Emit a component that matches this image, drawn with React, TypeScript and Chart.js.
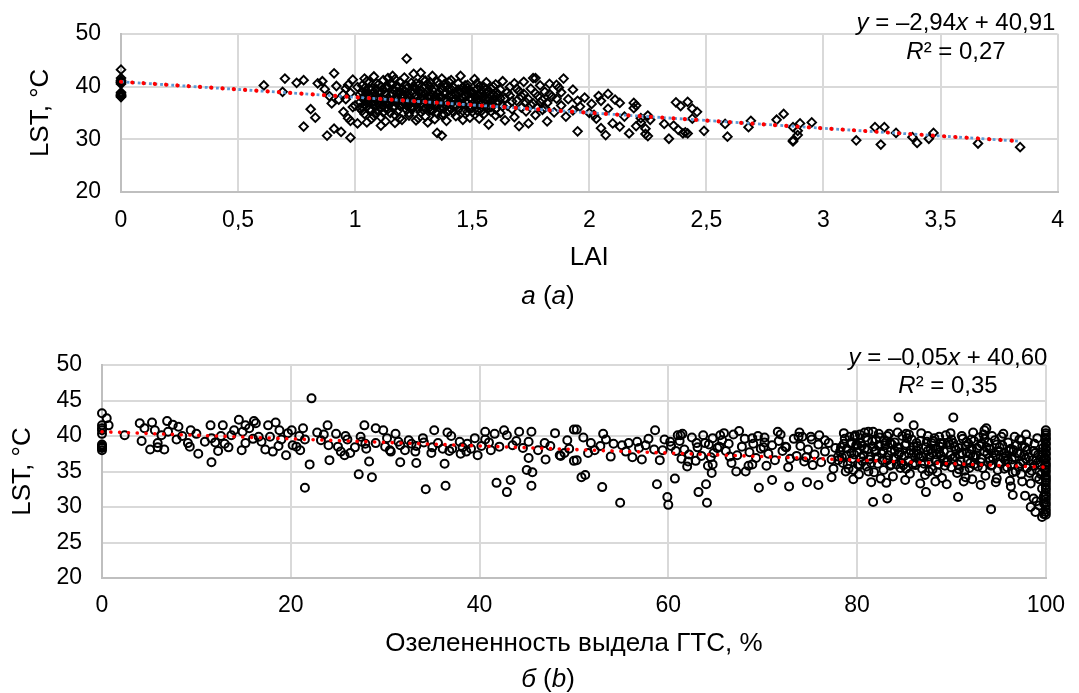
import React, { useEffect, useRef } from "react";
import { Chart, registerables } from "chart.js";

Chart.register(...registerables);

const FONT = "'Liberation Sans', Arial, Helvetica, sans-serif";
const TEXT = "#000000";
const GRID = "#d9d9d9";
const AXIS = "#bfbfbf";

// ---------------- panel a: LAI vs LST ----------------
const laiTicks = [0, 0.5, 1, 1.5, 2, 2.5, 3, 3.5, 4];
const lstTicksA = [20, 30, 40, 50];
const slopeA = -2.94;
const interceptA = 40.91;
const r2A = 0.27;
const trendRangeA = [0, 3.83];

const laiZero: [number, number][] = [
  [0, 43.2], [0, 41.6], [0, 41.2], [0, 41.0], [0, 40.8], [0, 40.7], [0, 40.5],
  [0, 38.9], [0, 38.6], [0, 38.4], [0, 38.3], [0, 38.1], [0, 38.0],
];

const laiLeft: [number, number][] = [
  [0.61, 40.2], [0.70, 41.5], [0.69, 39.0], [0.75, 40.7], [0.78, 41.2], [0.78, 32.4],
  [0.81, 35.7], [0.83, 34.1], [0.84, 40.6], [0.86, 41.0], [0.87, 39.5], [0.88, 30.7],
  [0.89, 38.2], [0.90, 36.8], [0.91, 42.5], [0.91, 32.0], [0.92, 40.1], [0.93, 37.5],
  [0.94, 31.4], [0.95, 35.2], [0.96, 39.6], [0.97, 34.0], [0.98, 30.3], [0.98, 33.5],
  [0.99, 41.3], [1.00, 36.4], [1.01, 33.0], [1.22, 45.3], [1.37, 30.7], [1.35, 31.2],
];

const laiBand1: [number, number][] = [
  [1.02, 38.5], [1.03, 40.2], [1.03, 36.1], [1.04, 41.5], [1.04, 34.8], [1.05, 39.1], [1.05, 37.3],
  [1.06, 35.6], [1.06, 40.8], [1.07, 33.9], [1.07, 38.0], [1.08, 36.7], [1.08, 41.9], [1.09, 39.5],
  [1.09, 35.0], [1.10, 37.8], [1.10, 40.4], [1.11, 34.2], [1.11, 38.9], [1.12, 36.3], [1.12, 41.2],
  [1.13, 39.8], [1.13, 33.4], [1.14, 37.1], [1.14, 35.7], [1.15, 40.6], [1.15, 38.3], [1.16, 36.0],
  [1.16, 42.0], [1.17, 34.6], [1.17, 39.2], [1.18, 37.5], [1.18, 35.3], [1.19, 40.9], [1.19, 38.7],
  [1.20, 36.6], [1.20, 33.7], [1.02, 37.0], [1.04, 39.7], [1.06, 38.4], [1.08, 34.4], [1.10, 39.0],
  [1.12, 37.6], [1.14, 41.6], [1.16, 38.6], [1.18, 40.1], [1.20, 39.4], [1.01, 39.9], [1.03, 35.4],
  [1.05, 41.0], [1.07, 36.9], [1.09, 37.4], [1.11, 40.0], [1.13, 35.9], [1.15, 36.8], [1.17, 41.4],
  [1.19, 34.0], [1.05, 33.2], [1.11, 32.6], [1.17, 33.1],
];

const laiBand2: [number, number][] = [
  [1.21, 38.2], [1.21, 41.7], [1.22, 36.4], [1.22, 39.6], [1.23, 34.5], [1.23, 37.9], [1.24, 40.7],
  [1.24, 35.8], [1.25, 42.4], [1.25, 38.8], [1.26, 36.9], [1.26, 33.6], [1.27, 40.2], [1.27, 37.3],
  [1.28, 35.1], [1.28, 39.3], [1.29, 41.3], [1.29, 36.2], [1.30, 38.5], [1.30, 34.3], [1.31, 40.5],
  [1.31, 37.0], [1.32, 35.5], [1.32, 39.9], [1.33, 42.0], [1.33, 36.7], [1.34, 38.1], [1.34, 33.8],
  [1.35, 40.9], [1.35, 37.6], [1.36, 35.9], [1.36, 39.1], [1.37, 41.5], [1.37, 36.1], [1.38, 38.6],
  [1.38, 34.7], [1.39, 40.0], [1.39, 37.2], [1.40, 35.4], [1.40, 39.5], [1.22, 37.7], [1.24, 39.0],
  [1.26, 40.6], [1.28, 37.8], [1.30, 41.1], [1.32, 38.3], [1.34, 36.4], [1.36, 38.0], [1.38, 40.4],
  [1.40, 36.8], [1.23, 35.0], [1.27, 34.0], [1.31, 33.2], [1.35, 34.9], [1.39, 33.5], [1.25, 36.0],
  [1.29, 38.9], [1.33, 37.4], [1.37, 39.7], [1.28, 42.6],
];

const laiBand3: [number, number][] = [
  [1.41, 38.4], [1.41, 41.2], [1.42, 36.3], [1.42, 39.8], [1.43, 34.4], [1.43, 37.5], [1.44, 40.6],
  [1.44, 35.6], [1.45, 38.9], [1.45, 42.0], [1.46, 36.6], [1.46, 33.7], [1.47, 39.4], [1.47, 37.1],
  [1.48, 35.2], [1.48, 40.3], [1.49, 37.9], [1.49, 34.1], [1.50, 39.0], [1.50, 36.0], [1.51, 41.4],
  [1.51, 38.2], [1.52, 35.5], [1.52, 37.4], [1.53, 40.0], [1.53, 33.9], [1.54, 36.8], [1.54, 39.2],
  [1.55, 34.8], [1.55, 38.0], [1.56, 40.8], [1.56, 36.2], [1.57, 37.7], [1.57, 32.8], [1.58, 39.6],
  [1.58, 35.3], [1.59, 38.5], [1.59, 36.5], [1.60, 40.4], [1.60, 34.5], [1.42, 38.0], [1.44, 37.0],
  [1.46, 39.9], [1.48, 38.7], [1.50, 37.6], [1.52, 39.5], [1.54, 37.9], [1.56, 38.8], [1.58, 37.2],
  [1.60, 38.1],
];

const laiBand4: [number, number][] = [
  [1.61, 37.0], [1.62, 39.4], [1.62, 35.0], [1.63, 41.0], [1.64, 37.8], [1.64, 33.6], [1.65, 36.4],
  [1.66, 39.9], [1.66, 38.3], [1.67, 35.7], [1.68, 40.6], [1.68, 34.2], [1.69, 37.3], [1.70, 39.1],
  [1.70, 32.5], [1.71, 36.0], [1.72, 38.6], [1.72, 40.9], [1.73, 35.3], [1.74, 37.6], [1.74, 33.0],
  [1.75, 39.6], [1.76, 36.8], [1.76, 41.6], [1.77, 34.6], [1.78, 38.2], [1.78, 36.1], [1.79, 40.2],
  [1.80, 35.6], [1.80, 37.4], [1.81, 39.0], [1.82, 33.4], [1.82, 36.9], [1.83, 40.5], [1.84, 38.1],
  [1.85, 35.1], [1.86, 37.7], [1.87, 39.8], [1.88, 36.4], [1.90, 34.3],
];

const laiCore: [number, number][] = [
  [1.03, 37.8], [1.05, 36.2], [1.07, 39.4], [1.09, 38.2], [1.11, 36.0], [1.13, 38.6], [1.15, 37.4],
  [1.17, 36.2], [1.19, 39.0], [1.21, 36.8], [1.23, 38.5], [1.25, 37.2], [1.27, 39.1], [1.29, 35.6],
  [1.31, 38.0], [1.33, 39.3], [1.35, 36.5], [1.37, 37.9], [1.39, 38.8], [1.41, 35.8], [1.43, 38.6],
  [1.45, 36.9], [1.47, 38.2], [1.49, 35.9], [1.51, 37.0], [1.53, 38.4], [1.55, 36.3], [1.57, 39.0],
  [1.59, 37.5], [1.04, 36.6], [1.06, 37.0], [1.08, 38.9], [1.10, 35.5], [1.12, 39.4], [1.14, 36.6],
  [1.16, 37.2], [1.18, 38.9], [1.20, 37.9], [1.22, 35.6], [1.24, 37.0], [1.26, 38.3], [1.28, 36.5],
  [1.30, 37.3], [1.32, 36.1], [1.34, 39.6], [1.36, 37.1], [1.38, 35.9], [1.40, 38.2], [1.42, 37.2],
  [1.44, 38.8], [1.46, 35.4], [1.48, 36.8], [1.50, 38.6], [1.52, 36.6], [1.54, 35.4], [1.56, 37.6],
  [1.58, 36.1], [1.60, 36.9], [1.62, 37.8], [1.65, 38.9],
];

const laiCore2: [number, number][] = [
  [1.02, 35.9], [1.04, 38.1], [1.06, 39.6], [1.08, 37.2], [1.10, 36.6], [1.12, 35.1], [1.14, 39.9],
  [1.16, 40.4], [1.18, 36.9], [1.20, 38.4], [1.22, 40.2], [1.24, 36.2], [1.26, 39.6], [1.28, 38.6],
  [1.30, 35.9], [1.32, 40.8], [1.34, 37.7], [1.36, 40.5], [1.38, 37.4], [1.40, 40.9], [1.42, 35.2],
  [1.44, 39.4], [1.46, 37.8], [1.48, 39.7], [1.50, 35.2], [1.52, 40.6], [1.54, 38.6], [1.56, 39.5],
  [1.58, 38.3], [1.60, 35.7], [1.03, 38.9], [1.05, 38.0], [1.07, 35.5], [1.09, 40.6], [1.11, 37.2],
  [1.13, 37.0], [1.15, 35.0], [1.17, 37.8], [1.19, 36.4], [1.21, 39.2], [1.23, 36.5], [1.25, 40.0],
  [1.27, 35.8], [1.29, 37.6], [1.31, 39.1], [1.33, 35.4], [1.35, 38.6], [1.37, 34.6], [1.39, 36.4],
  [1.41, 39.5], [1.43, 36.3], [1.45, 37.6], [1.47, 40.2], [1.49, 38.8], [1.51, 36.4], [1.53, 37.1],
  [1.55, 39.9], [1.57, 35.9], [1.59, 40.0], [1.61, 38.6], [1.63, 36.3], [1.67, 37.2], [1.69, 39.6],
  [1.71, 38.2], [1.73, 37.0], [1.75, 36.5], [1.77, 38.7], [1.79, 37.0], [1.81, 36.0], [1.83, 38.6],
  [0.96, 37.6], [0.98, 38.8], [0.99, 36.1], [0.97, 40.3], [0.95, 38.5],
];

const laiTail: [number, number][] = [
  [1.89, 41.5], [1.77, 41.6], [1.93, 39.4], [1.95, 37.3], [1.95, 31.5], [2.08, 38.6], [2.05, 37.3],
  [2.13, 36.9], [2.19, 36.9], [2.20, 36.4], [2.19, 35.9], [2.08, 35.8], [2.03, 33.9], [2.05, 32.1],
  [2.07, 30.8], [2.13, 32.4], [2.17, 31.1], [2.20, 32.5], [2.22, 33.2], [2.24, 32.0], [2.24, 31.0],
  [2.25, 30.6], [2.25, 34.5], [2.26, 33.7], [2.22, 34.0], [2.32, 32.9], [2.34, 30.1], [2.36, 32.6],
  [2.38, 31.8], [2.40, 31.1], [2.42, 31.1], [2.41, 31.3], [2.37, 37.0], [2.39, 36.3], [2.42, 37.1],
  [2.44, 35.8], [2.46, 35.2], [2.44, 33.9], [2.49, 31.6], [2.58, 32.9], [2.59, 30.5], [2.69, 33.5],
  [2.68, 32.3], [2.80, 33.7], [2.83, 34.8], [2.87, 32.3], [2.87, 29.6], [2.87, 29.8], [2.89, 30.8],
  [2.89, 31.6], [2.90, 33.0], [2.95, 33.2], [3.14, 29.8], [3.22, 32.3], [3.26, 32.3], [3.245, 29.0],
  [3.31, 31.2], [3.38, 30.4], [3.40, 29.3], [3.45, 30.1], [3.47, 31.2], [3.66, 29.2], [3.84, 28.5],
  [1.86, 40.3], [1.88, 38.9], [1.91, 37.6], [1.93, 35.5], [1.96, 36.2], [1.98, 37.9], [2.00, 35.0],
  [2.01, 36.7], [2.02, 34.6], [2.04, 38.2], [2.10, 33.0], [2.11, 37.5], [2.15, 34.3],
];

// ---------------- panel b: greenness vs LST ----------------
const greenTicks = [0, 20, 40, 60, 80, 100];
const lstTicksB = [20, 25, 30, 35, 40, 45, 50];
const slopeB = -0.05;
const interceptB = 40.6;
const r2B = 0.35;
const trendRangeB = [0, 100];

const greenLow: [number, number][] = [
  [0, 43.2], [0.5, 42.5], [0.7, 41.5], [0, 41.5], [0, 40.8], [0, 40.3], [0, 41.1], [0, 38.8], [0, 38.6],
  [0, 38.3], [0, 38.0], [0, 38.4], [2.4, 40.1], [4.0, 41.8], [4.2, 39.3], [4.5, 41.1], [5.1, 38.1],
  [5.3, 41.9], [5.6, 40.8], [5.9, 39.0], [5.9, 38.4], [6.3, 40.1], [6.6, 38.1], [6.9, 42.1], [7.0, 40.6],
  [7.5, 41.6], [7.9, 39.5], [8.1, 41.3], [9.1, 39.0], [9.3, 38.5], [9.4, 40.8], [10.0, 40.3], [10.2, 37.5],
  [10.9, 39.2], [11.5, 41.5], [11.6, 39.7], [11.6, 36.3], [12.3, 37.9], [12.6, 40.0], [12.8, 41.5],
  [13.4, 38.4], [13.7, 40.1], [14.0, 40.8], [14.5, 42.3], [14.8, 38.0], [14.9, 40.6], [15.2, 39.0],
  [15.2, 41.5], [15.6, 41.1], [16.1, 42.1], [16.3, 41.8], [16.6, 39.9], [16.9, 39.2], [17.3, 38.1],
  [17.6, 41.5], [17.8, 39.9], [18.1, 37.8], [18.4, 41.9], [18.7, 38.6], [18.8, 40.8], [19.5, 37.3],
  [19.7, 40.4], [20.1, 40.8], [20.2, 38.7], [20.6, 38.5], [20.9, 40.0], [21.3, 41.1], [21.5, 39.5],
  [21.5, 32.7], [22.0, 36.0], [22.2, 45.3], [22.8, 40.5], [23.2, 39.4], [23.9, 41.5], [24.0, 38.7],
  [24.1, 36.6], [24.8, 40.3], [25.0, 38.5], [25.3, 37.8], [25.7, 37.3], [25.8, 40.0], [26.3, 37.6],
  [27.2, 34.6], [27.4, 39.9], [27.5, 39.2], [27.8, 41.5], [27.9, 38.9], [28.3, 36.4], [28.6, 34.2],
  [29.0, 41.1], [29.0, 39.0], [29.8, 40.8], [30.2, 39.7], [30.5, 38.0], [30.6, 37.8], [31.1, 40.3],
  [31.4, 39.2], [31.6, 38.7], [31.6, 36.3], [32.1, 38.0], [32.5, 39.4], [33.2, 37.8], [33.3, 38.6],
  [33.3, 36.2], [34.0, 39.7], [34.1, 39.1], [34.3, 32.5], [34.9, 37.6], [35.2, 40.8], [35.6, 39.0],
  [36.1, 38.2], [36.3, 36.1], [36.4, 33.0], [36.6, 40.5], [37.0, 40.0], [37.1, 38.2], [37.9, 39.2],
  [38.0, 37.5], [38.6, 37.8], [38.7, 38.9], [39.1, 38.2], [39.5, 39.7], [39.8, 37.3], [40.6, 40.6],
  [40.6, 39.5], [41.2, 38.0], [41.6, 40.3], [41.8, 33.4], [42.1, 38.5], [42.6, 40.8], [42.9, 40.1],
  [42.9, 32.1], [43.3, 33.8], [43.5, 38.7], [44.2, 40.6], [45.0, 35.2], [45.2, 39.2], [45.2, 36.9],
  [45.5, 40.6], [45.5, 33.0], [45.6, 34.9], [46.2, 38.0], [46.9, 39.0], [47.0, 36.7], [48.0, 40.4],
  [48.5, 37.3], [48.6, 37.2], [49.3, 39.4], [49.5, 38.2], [50.0, 40.9], [50.0, 36.5],
  [8.5, 40.0], [12.0, 39.1], [13.0, 38.9], [16.0, 39.6], [19.0, 39.5], [21.0, 38.0], [23.5, 40.2],
  [26.0, 39.5], [26.8, 38.4], [28.0, 38.2], [30.0, 38.5], [32.8, 38.9], [35.0, 38.4], [36.8, 37.9],
  [38.2, 38.4], [40.2, 38.6], [41.0, 39.1], [43.9, 39.3], [44.6, 38.3], [47.5, 38.6], [49.0, 37.6],
];

const greenMid: [number, number][] = [
  [50.3, 40.9], [50.3, 36.6], [50.8, 34.2], [51.2, 34.5], [51.0, 39.8], [51.8, 39.0], [52.2, 38.0],
  [53.0, 32.8], [53.4, 39.5], [53.9, 37.1], [54.9, 30.6], [55.1, 38.7], [55.8, 39.0], [56.2, 37.0],
  [56.7, 39.2], [57.2, 36.7], [57.6, 38.7], [58.5, 38.1], [58.6, 40.8], [58.8, 33.2], [59.1, 36.6],
  [59.6, 39.5], [59.9, 31.4], [60.0, 30.3], [60.2, 39.2], [61.0, 40.1], [60.7, 34.0], [61.3, 40.1],
  [61.4, 36.8], [62.0, 35.7], [62.1, 36.4], [63.0, 39.0], [63.2, 32.1], [64.0, 33.2], [64.1, 30.6],
  [64.2, 35.8], [64.7, 36.0], [64.6, 34.8], [64.7, 39.7], [65.5, 40.1], [65.4, 38.5], [66.5, 37.1],
  [67.2, 35.0], [68.2, 35.0], [68.5, 35.8], [68.9, 39.7], [70.2, 39.8], [70.1, 38.4], [69.6, 32.7],
  [71.0, 33.8], [71.6, 40.6], [72.4, 38.5], [72.8, 32.9], [73.8, 39.9], [74.2, 39.9], [74.7, 33.5],
  [75.2, 39.5], [75.9, 33.1], [76.6, 39.4], [77.3, 34.2], [78.0, 36.6],
  [52.8, 38.6], [54.2, 38.9], [55.5, 37.8], [56.9, 38.3], [57.9, 39.6], [59.4, 38.0], [53.1, 40.3],
  [51.5, 37.6],
  [60.3, 38.6], [60.8, 37.9], [61.2, 39.3], [61.7, 38.1], [62.2, 37.4], [62.5, 39.8], [63.1, 38.4],
  [63.5, 37.2], [63.9, 39.0], [64.3, 38.8], [64.8, 37.6], [65.2, 38.3], [65.7, 39.4], [66.1, 37.9],
  [66.4, 38.9], [66.9, 40.2], [67.3, 37.3], [67.8, 38.5], [68.1, 39.6], [68.6, 37.7], [69.0, 38.9],
  [69.3, 36.9], [69.8, 38.2], [70.2, 39.1], [70.6, 37.5], [71.0, 38.7], [71.3, 36.6], [71.7, 39.3],
  [72.1, 37.9], [72.5, 38.4], [72.9, 36.8], [73.3, 39.6], [73.6, 37.2], [74.0, 38.6], [74.4, 36.4],
  [74.8, 38.1], [75.1, 39.9], [75.5, 37.4], [75.9, 38.8], [76.2, 36.3], [76.6, 37.8], [77.0, 39.0],
  [77.3, 36.7], [77.7, 38.3], [78.0, 37.1], [61.5, 40.3], [63.7, 40.1], [65.9, 40.4], [67.5, 40.7],
  [69.5, 40.0], [71.9, 40.2], [73.9, 40.5], [76.0, 40.1], [62.9, 36.5], [66.7, 36.2], [70.4, 35.8],
  [72.7, 35.6], [75.3, 35.9], [77.5, 35.4], [68.9, 36.0], [64.5, 37.0], [74.6, 37.0],
];

const greenHigh: [number, number][] = [
  [78.3, 38.4], [78.5, 36.2], [78.7, 39.6], [78.9, 37.3], [79.1, 35.4], [79.3, 38.9], [79.5, 36.8],
  [79.8, 40.1], [80.0, 37.7], [80.2, 34.6], [80.4, 39.0], [80.6, 36.4], [80.8, 38.2], [81.0, 35.7],
  [81.2, 40.6], [81.4, 37.1], [81.6, 39.3], [81.8, 34.9], [82.0, 38.0], [82.2, 36.1], [82.4, 39.8],
  [82.6, 37.5], [82.8, 35.2], [83.0, 38.7], [83.2, 36.6], [83.4, 40.3], [83.6, 37.9], [83.8, 34.3],
  [84.0, 39.1], [84.2, 36.0], [84.4, 38.4], [84.6, 35.5], [84.8, 40.0], [85.0, 37.2], [85.2, 38.9],
  [85.4, 36.5], [85.6, 34.7], [85.8, 39.5], [86.0, 37.6], [86.2, 35.9], [86.4, 38.6], [86.6, 36.9],
  [86.8, 40.4], [87.0, 37.0], [87.2, 34.5], [87.4, 39.2], [87.6, 36.3], [87.8, 38.1], [88.0, 35.3],
  [88.2, 39.7], [88.4, 37.4], [88.6, 36.0], [88.8, 38.5], [89.0, 34.1], [89.2, 37.8], [89.4, 40.1],
  [89.6, 36.6], [89.8, 38.8], [90.0, 35.6], [90.2, 39.0], [90.4, 37.1], [90.6, 34.8], [90.8, 38.3],
  [91.0, 36.4], [91.2, 39.6], [91.4, 35.1], [91.6, 37.7], [91.8, 38.9], [92.0, 36.2], [92.2, 33.9],
  [92.4, 39.3], [92.6, 37.3], [92.8, 35.7], [93.0, 38.6], [93.2, 36.8], [93.4, 40.2], [93.6, 34.4],
  [93.8, 37.5], [94.0, 38.2], [94.2, 35.8], [94.4, 36.9], [94.6, 39.4], [94.8, 34.0], [95.0, 37.9],
  [95.2, 36.1], [95.4, 38.7], [95.6, 35.4], [95.8, 37.2], [96.0, 39.1], [96.2, 33.7], [96.4, 36.7],
  [96.6, 38.0], [96.8, 35.0], [97.0, 37.6], [97.2, 39.5], [97.4, 34.6], [97.6, 36.3], [97.8, 38.4],
  [98.0, 35.5], [98.2, 37.0], [98.4, 33.3], [98.6, 36.6], [98.8, 38.9], [99.0, 34.2], [99.2, 37.4],
  [99.4, 35.9], [99.6, 32.6], [99.8, 36.8],
  [78.4, 37.0], [78.8, 35.0], [79.2, 39.9], [79.7, 37.4], [80.1, 36.0], [80.5, 38.6], [80.9, 39.8],
  [81.3, 36.7], [81.7, 38.5], [82.1, 37.0], [82.5, 34.0], [82.9, 39.4], [83.3, 37.3], [83.7, 38.8],
  [84.1, 36.8], [84.5, 37.7], [84.9, 35.9], [85.3, 39.7], [85.7, 38.0], [86.1, 36.2], [86.5, 37.4],
  [86.9, 35.4], [87.3, 38.4], [87.7, 37.1], [88.1, 39.3], [88.5, 34.9], [88.9, 37.2], [89.3, 35.8],
  [89.7, 39.1], [90.1, 36.8], [90.5, 38.0], [90.9, 37.4], [91.3, 33.6], [91.7, 36.5], [92.1, 38.1],
  [92.5, 37.0], [92.9, 39.8], [93.3, 35.5], [93.7, 38.4], [94.1, 36.5], [94.5, 37.6], [94.9, 35.2],
  [95.3, 39.9], [95.7, 36.6], [96.1, 37.9], [96.5, 34.9], [96.9, 38.7], [97.3, 36.1], [97.7, 37.3],
  [98.1, 39.2], [98.5, 35.1], [98.9, 37.6], [99.3, 33.9], [99.7, 38.3],
  [78.6, 40.4], [79.4, 39.0], [80.3, 40.2], [81.1, 38.1], [82.3, 40.3], [83.5, 39.0], [84.3, 40.5],
  [85.5, 40.2], [86.3, 39.0], [87.5, 40.0], [88.7, 39.9], [89.9, 40.4], [91.1, 40.0], [92.3, 40.5],
  [93.5, 39.6], [94.3, 40.0], [95.5, 40.3], [96.7, 39.9], [97.9, 40.2], [99.1, 39.7], [79.6, 33.9],
  [81.5, 33.5], [83.1, 33.4], [85.1, 33.8], [86.7, 33.3], [88.3, 33.6], [89.5, 33.2], [91.5, 34.2],
  [93.1, 33.1], [94.7, 33.5], [96.3, 32.9], [97.5, 33.6], [99.5, 34.6], [98.7, 31.2], [99.3, 30.2],
  [99.0, 30.8], [97.8, 31.6],
  [79.7, 39.9], [80.8, 40.5], [81.7, 40.6], [81.7, 30.7], [83.2, 31.2], [83.2, 40.0], [84.4, 42.6],
  [85.2, 40.3], [86.0, 41.5], [87.3, 32.1], [88.8, 39.0], [90.2, 42.6], [90.7, 31.4], [92.1, 39.5],
  [93.5, 40.8], [93.7, 41.1], [94.2, 29.7], [96.5, 31.7], [97.4, 39.4], [98.4, 30.0], [98.9, 29.3],
  [99.6, 28.6],
];

const greenDense: [number, number][] = [
  [78.2, 37.8], [78.6, 38.9], [79.0, 36.0], [79.4, 37.6], [79.9, 38.7], [80.3, 35.9], [80.7, 37.3],
  [81.1, 39.4], [81.5, 36.2], [81.9, 37.8], [82.3, 38.6], [82.7, 36.6], [83.1, 39.2], [83.5, 35.8],
  [83.9, 37.0], [84.3, 38.3], [84.7, 36.2], [85.1, 38.7], [85.5, 37.5], [85.9, 36.0], [86.3, 38.0],
  [86.7, 39.3], [87.1, 36.1], [87.5, 37.9], [87.9, 39.0], [88.3, 36.6], [88.7, 37.7], [89.1, 38.9],
  [89.5, 36.3], [89.9, 37.3], [90.3, 38.5], [90.7, 36.0], [91.1, 37.6], [91.5, 38.6], [91.9, 35.5],
  [92.3, 37.1], [92.7, 38.3], [93.1, 36.3], [93.5, 37.8], [93.9, 39.1], [94.3, 35.9], [94.7, 37.3],
  [95.1, 38.4], [95.5, 36.9], [95.9, 35.6], [96.3, 38.2], [96.7, 37.0], [97.1, 35.7], [97.5, 38.6],
  [97.9, 36.8], [98.3, 34.8], [98.7, 37.9], [99.1, 36.2], [99.5, 37.0], [99.9, 35.3],
  [78.9, 38.2], [79.6, 35.2], [80.4, 37.0], [81.2, 35.0], [82.0, 39.5], [82.8, 37.9], [83.6, 36.0],
  [84.4, 37.4], [85.2, 35.4], [86.0, 38.5], [86.8, 37.2], [87.6, 35.0], [88.4, 38.2], [89.2, 36.6],
  [90.0, 39.5], [90.8, 35.3], [91.6, 39.2], [92.4, 36.0], [93.2, 38.9], [94.0, 36.9], [94.8, 38.8],
  [95.6, 37.6], [96.4, 36.0], [97.2, 37.5], [98.0, 38.0], [98.8, 35.8], [99.6, 37.7], [80.0, 38.8],
  [84.0, 37.9], [88.0, 37.6], [92.0, 37.4], [96.0, 36.6], [99.0, 36.6],
];

const greenFull: [number, number][] = [
  [100, 40.8], [100, 40.4], [100, 40.1], [100, 39.7], [100, 39.5], [100, 39.0], [100, 38.8], [100, 38.3],
  [100, 38.1], [100, 37.6], [100, 37.4], [100, 36.9], [100, 36.7], [100, 36.2], [100, 35.9], [100, 35.6],
  [100, 35.2], [100, 34.9], [100, 34.4], [100, 34.1], [100, 33.8], [100, 33.5], [100, 33.1], [100, 32.7],
  [100, 32.4], [100, 31.9], [100, 31.5], [100, 31.1], [100, 30.6], [100, 30.2], [100, 29.7], [100, 29.3],
  [100, 28.9], [99.8, 31.5], [99.8, 30.5], [99.8, 29.0],
];

// ---------------- helpers ----------------
const toPts = (arr: [number, number][]) => arr.map(([x, y]) => ({ x, y }));
const trend = (slope: number, intercept: number, range: number[]) =>
  range.map((x) => ({ x, y: intercept + slope * x }));
const fmtNum = (v: number, d: number) => Math.abs(v).toFixed(d).replace(".", ",");
const fmtTick = (v: number | string) => String(v).replace(".", ",");

type Run = { t: string; i?: boolean };

function drawRuns(ctx: CanvasRenderingContext2D, runs: Run[], cx: number, cy: number, size: number) {
  const widths = runs.map((r) => {
    ctx.font = `${r.i ? "italic " : ""}${size}px ${FONT}`;
    return ctx.measureText(r.t).width;
  });
  const total = widths.reduce((a, b) => a + b, 0);
  let x = cx - total / 2;
  ctx.textBaseline = "middle";
  ctx.textAlign = "left";
  ctx.fillStyle = TEXT;
  runs.forEach((r, k) => {
    ctx.font = `${r.i ? "italic " : ""}${size}px ${FONT}`;
    ctx.fillText(r.t, x, cy);
    x += widths[k];
  });
}

function textPlugin(
  id: string,
  slope: number,
  intercept: number,
  r2: number,
  eqX: number,
  eqY: number,
  r2Y: number,
  capLetter: string,
  capLatin: string,
  capY: number
) {
  return {
    id,
    afterDraw(chart: any) {
      const ctx = chart.ctx as CanvasRenderingContext2D;
      ctx.save();
      drawRuns(
        ctx,
        [
          { t: "y", i: true },
          { t: ` = ${slope < 0 ? "–" : ""}${fmtNum(slope, 2)}` },
          { t: "x", i: true },
          { t: ` + ${fmtNum(intercept, 2)}` },
        ],
        eqX,
        eqY,
        24
      );
      drawRuns(ctx, [{ t: "R", i: true }, { t: `² = ${fmtNum(r2, 2)}` }], eqX, r2Y, 24);
      drawRuns(
        ctx,
        [{ t: capLetter, i: true }, { t: " (" }, { t: capLatin, i: true }, { t: ")" }],
        548,
        capY,
        26
      );
      ctx.restore();
    },
  };
}

function makeConfig(opts: {
  points: { x: number; y: number }[];
  trendPts: { x: number; y: number }[];
  blueTrend: boolean;
  pointStyle: string;
  pointRadius: number;
  pointBorder: number;
  xMin: number;
  xMax: number;
  yMin: number;
  yMax: number;
  xTicks: number[];
  yTicks: number[];
  xTitle: string;
  yWidth: number;
  xHeight: number;
  padTop: number;
  padRight: number;
  xTickPad: number;
  xTitlePadBottom: number;
  yTitlePadTop: number;
  dotGap: number;
  dotWidth: number;
  plugin: any;
}): any {
  const datasets: any[] = [
    {
      data: opts.trendPts,
      showLine: true,
      borderColor: "#ff0000",
      borderWidth: opts.dotWidth,
      borderDash: [0.1, opts.dotGap],
      borderCapStyle: "round",
      pointRadius: 0,
      fill: false,
      clip: false,
      order: 0,
    },
  ];
  if (opts.blueTrend) {
    datasets.push({
      data: opts.trendPts,
      showLine: true,
      borderColor: "#5b9bd5",
      borderWidth: 2.8,
      borderDash: [2.8, 2.8],
      borderCapStyle: "butt",
      pointRadius: 0,
      fill: false,
      clip: false,
      order: 1,
    });
  }
  datasets.push({
    data: opts.points,
    showLine: false,
    pointStyle: opts.pointStyle,
    pointRadius: opts.pointRadius,
    pointBorderWidth: opts.pointBorder,
    pointBorderColor: "#000000",
    pointBackgroundColor: "rgba(0,0,0,0)",
    borderColor: "#000000",
    backgroundColor: "rgba(0,0,0,0)",
    clip: false,
    order: 2,
  });

  return {
    type: "scatter",
    data: { datasets },
    options: {
      animation: false,
      responsive: false,
      devicePixelRatio: 1,
      events: [],
      layout: { padding: { left: 0, right: opts.padRight, top: opts.padTop, bottom: 0 } },
      plugins: { legend: { display: false }, tooltip: { enabled: false } },
      scales: {
        x: {
          type: "linear",
          min: opts.xMin,
          max: opts.xMax,
          afterBuildTicks: (s: any) => {
            s.ticks = opts.xTicks.map((v) => ({ value: v }));
          },
          afterFit: (s: any) => {
            s.height = opts.xHeight;
          },
          grid: { color: GRID, lineWidth: 2, drawTicks: false },
          border: { color: AXIS, width: 2 },
          ticks: {
            font: { family: FONT, size: 23 },
            color: TEXT,
            padding: opts.xTickPad,
            maxRotation: 0,
            autoSkip: false,
            callback: (v: any) => fmtTick(v),
          },
          title: {
            display: true,
            text: opts.xTitle,
            font: { family: FONT, size: 26 },
            color: TEXT,
            padding: { top: 0, bottom: opts.xTitlePadBottom },
          },
        },
        y: {
          type: "linear",
          min: opts.yMin,
          max: opts.yMax,
          afterBuildTicks: (s: any) => {
            s.ticks = opts.yTicks.map((v) => ({ value: v }));
          },
          afterFit: (s: any) => {
            s.width = opts.yWidth;
          },
          grid: { color: GRID, lineWidth: 2, drawTicks: false },
          border: { color: AXIS, width: 2 },
          ticks: {
            font: { family: FONT, size: 23 },
            color: TEXT,
            padding: 20,
            callback: (v: any) => fmtTick(v),
          },
          title: {
            display: true,
            text: "LST, °C",
            font: { family: FONT, size: 26 },
            color: TEXT,
            padding: { top: opts.yTitlePadTop, bottom: 0 },
          },
        },
      },
    },
    plugins: [opts.plugin],
  };
}

export default function App() {
  const refA = useRef<HTMLCanvasElement>(null);
  const refB = useRef<HTMLCanvasElement>(null);

  useEffect(() => {
    const pointsA = toPts([
      ...laiZero,
      ...laiLeft,
      ...laiBand1,
      ...laiBand2,
      ...laiBand3,
      ...laiBand4,
      ...laiCore,
      ...laiCore2,
      ...laiTail,
    ]);
    const pointsB = toPts([...greenLow, ...greenMid, ...greenHigh, ...greenDense, ...greenFull]);

    const cfgA = makeConfig({
      points: pointsA,
      trendPts: trend(slopeA, interceptA, trendRangeA),
      blueTrend: true,
      pointStyle: "rectRot",
      pointRadius: 4.3,
      pointBorder: 1.9,
      xMin: laiTicks[0],
      xMax: laiTicks[laiTicks.length - 1],
      yMin: lstTicksA[0],
      yMax: lstTicksA[lstTicksA.length - 1],
      xTicks: laiTicks,
      yTicks: lstTicksA,
      xTitle: "LAI",
      yWidth: 121,
      xHeight: 128,
      padTop: 32,
      padRight: 16,
      xTickPad: 15,
      xTitlePadBottom: 47,
      yTitlePadTop: 25,
      dotGap: 11.2,
      dotWidth: 4.2,
      plugin: textPlugin("textA", slopeA, interceptA, r2A, 956, 23.5, 52, "а", "a", 297),
    });

    const cfgB = makeConfig({
      points: pointsB,
      trendPts: trend(slopeB, interceptB, trendRangeB),
      blueTrend: false,
      pointStyle: "circle",
      pointRadius: 4.0,
      pointBorder: 2,
      xMin: greenTicks[0],
      xMax: greenTicks[greenTicks.length - 1],
      yMin: lstTicksB[0],
      yMax: lstTicksB[lstTicksB.length - 1],
      xTicks: greenTicks,
      yTicks: lstTicksB,
      xTitle: "Озелененность выдела ГТС, %",
      yWidth: 102,
      xHeight: 115,
      padTop: 45,
      padRight: 22,
      xTickPad: 14,
      xTitlePadBottom: 34,
      yTitlePadTop: 7,
      dotGap: 8.7,
      dotWidth: 3.6,
      plugin: textPlugin("textB", slopeB, interceptB, r2B, 948, 38.5, 66, "б", "b", 360),
    });

    const a = new Chart(refA.current as HTMLCanvasElement, cfgA);
    const b = new Chart(refB.current as HTMLCanvasElement, cfgB);
    return () => {
      a.destroy();
      b.destroy();
    };
  }, []);

  return (
    <div style={{ position: "absolute", left: 0, top: 0, width: 1079, height: 693, background: "#ffffff" }}>
      <canvas
        ref={refA}
        width={1079}
        height={320}
        style={{ position: "absolute", left: 0, top: 0, width: 1079, height: 320 }}
      />
      <canvas
        ref={refB}
        width={1079}
        height={373}
        style={{ position: "absolute", left: 0, top: 320, width: 1079, height: 373 }}
      />
    </div>
  );
}
